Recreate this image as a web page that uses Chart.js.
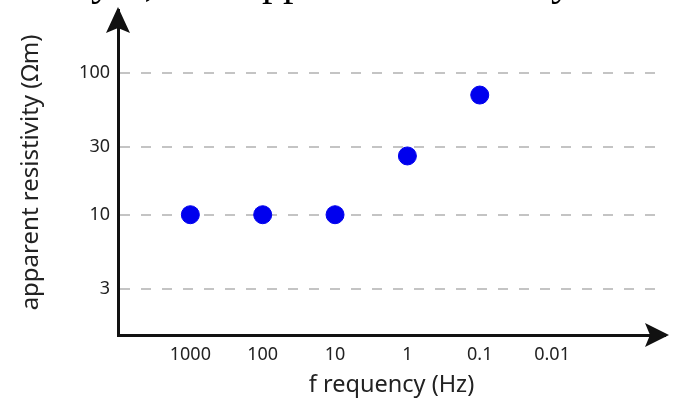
<!DOCTYPE html>
<html>
<head>
<meta charset="utf-8">
<script src="https://cdn.jsdelivr.net/npm/chart.js@4"></script>
<style>
    html, body { margin: 0; padding: 0; background: #fff; }
    #wrap { position: relative; width: 675px; height: 403px; overflow: hidden; }
    #topText {
        position: absolute; left: -98px; top: -40px;
        font-family: "Liberation Serif", serif; font-size: 42px; line-height: 42px;
        word-spacing: 8px; white-space: nowrap; color: #000;
    }
</style>
</head>
<body>
<div id="wrap">
    <div id="topText">conductivity f, the apparent resistivity</div>
    <canvas id="scatter_chart" width="675" height="403"></canvas>
</div>
<script>
// data
var frequency = [1000, 100, 10, 1, 0.1];
var resistivity = [10, 10, 10, 26, 70];
var freqTicks = [1000, 100, 10, 1, 0.1, 0.01];
var freqTickLabels = ["1000", "100", "10", "1", "0.1", "0.01"];
var rhoTicks = [3, 10, 30, 100];
var rhoTickLabels = ["3", "10", "30", "100"];

var titleX = "f requency (Hz)";
var titleY = "apparent resistivity (\u03A9m)";
var pointColor = "#0000ee";
var axisColor = "#111";
var gridColor = "#c4c4c4";
var textColor = "#222";

// arrow heads at the ends of both axes
var arrowPlugin = {
    id: "arrows",
    afterDraw: function (chart) {
        var ctx = chart.ctx;
        var a = chart.chartArea;
        ctx.save();
        ctx.fillStyle = axisColor;
        // y axis
        ctx.beginPath();
        ctx.moveTo(a.left, a.top - 3);
        ctx.lineTo(a.left + 12, a.top + 23);
        ctx.lineTo(a.left, a.top + 18);
        ctx.lineTo(a.left - 12, a.top + 23);
        ctx.closePath();
        ctx.fill();
        // x axis
        ctx.beginPath();
        ctx.moveTo(a.right + 4, a.bottom);
        ctx.lineTo(a.right - 20, a.bottom - 12);
        ctx.lineTo(a.right - 15, a.bottom);
        ctx.lineTo(a.right - 20, a.bottom + 12);
        ctx.closePath();
        ctx.fill();
        ctx.restore();
    }
};

function renderChart() {
    var points = [];
    for (var i = 0; i < frequency.length; i++) {
        points.push({x: frequency[i], y: resistivity[i]});
    }
    new Chart(document.getElementById("scatter_chart").getContext("2d"), {
        type: "scatter",
        data: {
            datasets: [{
                data: points,
                backgroundColor: pointColor,
                borderColor: pointColor,
                pointRadius: 9,
                pointHoverRadius: 9
            }]
        },
        options: {
            responsive: false,
            animation: false,
            layout: {padding: {top: 8, right: 3, left: 0, bottom: 0}},
            plugins: {legend: {display: false}, tooltip: {enabled: false}},
            scales: {
                x: {
                    type: "logarithmic",
                    reverse: true,
                    min: 0.000275,
                    max: 10000,
                    afterBuildTicks: function (scale) {
                        scale.ticks = freqTicks.map(function (v) { return {value: v}; });
                    },
                    afterFit: function (scale) {
                        scale.height = 68;
                        scale.paddingLeft = 0;
                        scale.paddingRight = 0;
                    },
                    grid: {display: false, drawTicks: false},
                    border: {display: true, color: axisColor, width: 3},
                    ticks: {
                        padding: 9,
                        color: textColor,
                        font: {family: "'Noto Sans'", size: 18},
                        maxRotation: 0,
                        autoSkip: false,
                        callback: function (value) {
                            var idx = freqTicks.indexOf(value);
                            return idx >= 0 ? freqTickLabels[idx] : "";
                        }
                    },
                    title: {
                        display: true,
                        text: titleX,
                        color: textColor,
                        font: {family: "'Noto Sans'", size: 23.5},
                        padding: {top: 0, bottom: 4}
                    }
                },
                y: {
                    type: "logarithmic",
                    min: 1.415,
                    max: 279,
                    afterBuildTicks: function (scale) {
                        scale.ticks = rhoTicks.map(function (v) { return {value: v}; });
                    },
                    afterFit: function (scale) {
                        scale.width = 118;
                        scale.paddingTop = 0;
                        scale.paddingBottom = 0;
                    },
                    grid: {
                        display: true,
                        drawTicks: false,
                        color: gridColor,
                        lineWidth: 2
                    },
                    border: {display: true, color: axisColor, width: 3, dash: [10, 11]},
                    ticks: {
                        padding: 8,
                        color: textColor,
                        font: {family: "'Noto Sans'", size: 18},
                        callback: function (value) {
                            var idx = rhoTicks.indexOf(value);
                            return idx >= 0 ? rhoTickLabels[idx] : "";
                        }
                    },
                    title: {
                        display: true,
                        text: titleY,
                        color: textColor,
                        font: {family: "'Noto Sans'", size: 24},
                        padding: {top: 17, bottom: 0}
                    }
                }
            }
        },
        plugins: [arrowPlugin]
    });
}

renderChart();
</script>
</body>
</html>
